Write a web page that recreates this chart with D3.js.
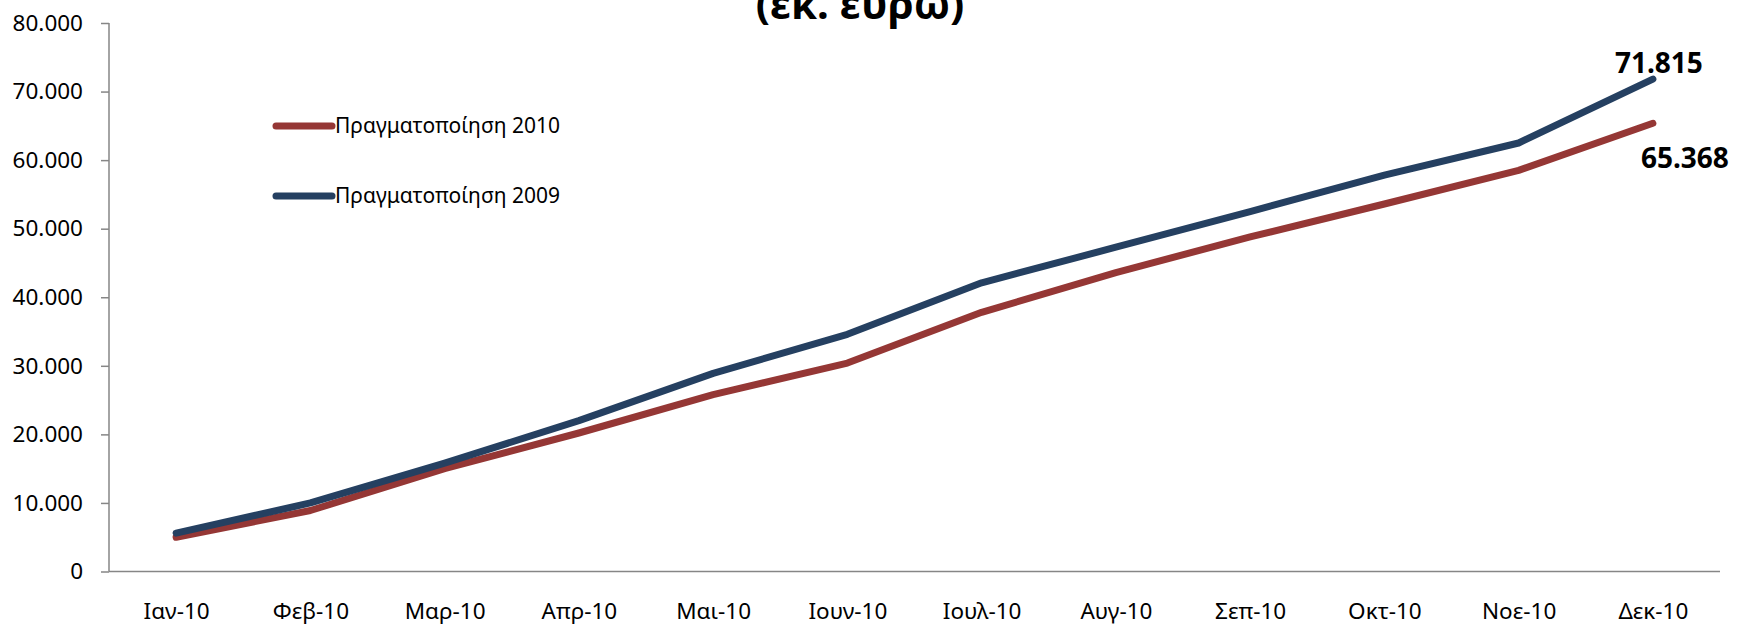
<!DOCTYPE html>
<html>
<head>
<meta charset="utf-8">
<script src="https://cdn.jsdelivr.net/npm/d3@7"></script>
<style>
  body { margin: 0; background: #fff; }
  text { font-family: "Noto Sans", "Open Sans", sans-serif; }
</style>
</head>
<body>
<div id="chart"></div>
<script>
// data
var months = ["Ιαν-10","Φεβ-10","Μαρ-10","Απρ-10","Μαι-10","Ιουν-10","Ιουλ-10","Αυγ-10","Σεπ-10","Οκτ-10","Νοε-10","Δεκ-10"];
var real2010 = [5000, 8900, 15000, 20200, 25800, 30400, 37800, 43600, 48800, 53600, 58500, 65368];
var real2009 = [5600, 10000, 15800, 22000, 28900, 34600, 42100, 47300, 52500, 57800, 62500, 71815];
var yTicks = [0, 10000, 20000, 30000, 40000, 50000, 60000, 70000, 80000];
var seriesNames = ["Πραγματοποίηση 2010", "Πραγματοποίηση 2009"];
var titleText = "(εκ. ευρω)";

var W = 1740, H = 626;
var margin = {top: 23, right: 20, bottom: 54.5, left: 109};
var width = W - margin.left - margin.right,
    height = H - margin.top - margin.bottom;

var svg = d3.select("#chart")
  .append("svg")
    .attr("width", W)
    .attr("height", H);

var g = svg.append("g")
    .attr("transform", "translate(" + margin.left + "," + margin.top + ")");

var x = d3.scalePoint()
    .domain(months)
    .range([0, width])
    .padding(0.5);

var y = d3.scaleLinear()
    .domain([0, 80000])
    .range([height, 0]);

var fmt = d3.formatLocale({decimal: ",", thousands: ".", grouping: [3], currency: ["", "€"]}).format(",d");

// title (its first line is outside the picture, like the original)
svg.append("text")
    .attr("x", 860)
    .attr("y", 19)
    .attr("text-anchor", "middle")
    .style("font-size", "42px")
    .style("font-weight", "bold")
    .text(titleText);

// y axis
var yAxis = g.append("g")
    .call(d3.axisLeft(y).tickValues(yTicks).tickSize(8).tickPadding(18).tickFormat(fmt));
yAxis.selectAll("text").style("font-size", "22.5px").attr("fill", "#000");
yAxis.selectAll("line").attr("stroke", "#868686").attr("stroke-width", 1.5);
yAxis.select(".domain").attr("stroke", "#868686").attr("stroke-width", 1.5).attr("d", "M0," + height + "V0");

// x axis
var xAxis = g.append("g")
    .attr("transform", "translate(0," + height + ")")
    .call(d3.axisBottom(x).tickSize(0).tickPadding(32));
xAxis.selectAll("text").style("font-size", "22.5px").attr("fill", "#000");
xAxis.select(".domain").attr("stroke", "#868686").attr("stroke-width", 1.5).attr("d", "M0,0H" + width);

var line = d3.line()
    .x(function(d, i) { return x(months[i]); })
    .y(function(d) { return y(d); });

var series = [
  {name: seriesNames[0], values: real2010, color: "#953735"},
  {name: seriesNames[1], values: real2009, color: "#254061"}
];

// draw 2010 first, 2009 on top
series.forEach(function(s) {
  g.append("path")
    .datum(s.values)
    .attr("fill", "none")
    .attr("stroke", s.color)
    .attr("stroke-width", 7)
    .attr("stroke-linecap", "round")
    .attr("stroke-linejoin", "round")
    .attr("d", line);
});

// end labels
var last = months.length - 1;
g.append("text")
    .attr("x", x(months[last]) + 6)
    .attr("y", y(real2009[last]) - 6)
    .attr("text-anchor", "middle")
    .style("font-size", "28px")
    .style("font-weight", "bold")
    .text(fmt(real2009[last]));
g.append("text")
    .attr("x", x(months[last]) + 32)
    .attr("y", y(real2010[last]) + 45)
    .attr("text-anchor", "middle")
    .style("font-size", "28px")
    .style("font-weight", "bold")
    .text(fmt(real2010[last]));

// legend
var legend = svg.append("g").attr("transform", "translate(276,126)");
series.forEach(function(s, i) {
  var row = legend.append("g").attr("transform", "translate(0," + (i * 70) + ")");
  row.append("line")
    .attr("x1", 0).attr("x2", 56)
    .attr("stroke", s.color)
    .attr("stroke-width", 7)
    .attr("stroke-linecap", "round");
  row.append("text")
    .attr("x", 59)
    .attr("dy", "0.35em")
    .style("font-size", "21px")
    .text(s.name);
});
</script>
</body>
</html>
